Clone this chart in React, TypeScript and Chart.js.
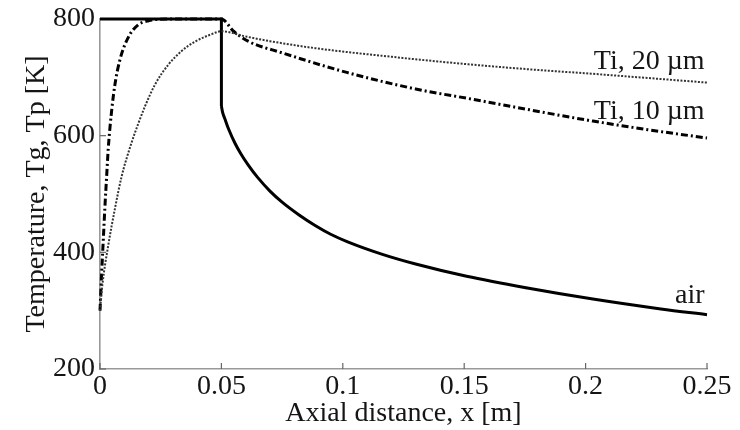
import React, { useEffect, useRef } from "react";
import { Chart, registerables } from "chart.js";
Chart.register(...registerables);

const xTicks = [0, 0.05, 0.1, 0.15, 0.2, 0.25];
const xTickLabels = ["0", "0.05", "0.1", "0.15", "0.2", "0.25"];
const yTicks = [200, 400, 600, 800];
const yTickLabels = ["200", "400", "600", "800"];

// air: inlet plateau and drop
const airInletX = [0, 0.05, 0.05];
const airInletY = [800, 800, 651];
// air: decay after the drop
const airX = [0.05, 0.0505, 0.0515, 0.053, 0.0556, 0.058, 0.061, 0.065, 0.07, 0.075, 0.082, 0.0886, 0.095, 0.102, 0.116, 0.13, 0.151, 0.176, 0.203, 0.231, 0.25];
const airY = [651, 640, 628, 611, 587, 569, 550, 528, 505, 486, 464, 446, 431, 418, 397, 380, 359, 339, 320, 303, 293];

const ti10X = [0, 0.0007, 0.0014, 0.002, 0.0028, 0.0034, 0.0048, 0.0062, 0.0082, 0.0117, 0.0157, 0.02, 0.029, 0.05, 0.055, 0.061, 0.075, 0.102, 0.13, 0.154, 0.176, 0.203, 0.231, 0.25];
const ti10Y = [300, 366, 425, 476, 535, 578, 643, 689, 730, 769, 790, 797, 800, 800, 779, 762, 742, 708, 680, 662, 645, 625, 607, 596];

const ti20X = [0, 0.001, 0.0034, 0.0062, 0.0089, 0.013, 0.0158, 0.0185, 0.0227, 0.028, 0.0336, 0.039, 0.046, 0.05, 0.06, 0.07, 0.0886, 0.116, 0.15, 0.176, 0.203, 0.25];
const ti20Y = [300, 345, 412, 476, 530, 588, 621, 650, 688, 721, 745, 761, 774, 779, 770, 762, 750, 737, 723, 714, 706, 691];

const noteTexts = ["Ti, 20 \u00b5m", "Ti, 10 \u00b5m", "air"];
const noteX = [0.249, 0.249, 0.249];
const noteY = [727, 642, 325];

const FONT = '"Liberation Serif", "Times New Roman", serif';
const TEXT = "#151515";

const pts = (xs: number[], ys: number[]) => xs.map((x, i) => ({ x, y: ys[i] }));

const innerTicks = {
  id: "innerTicks",
  beforeDatasetsDraw(chart: any) {
    const { ctx, chartArea, scales } = chart;
    const x = scales.x, y = scales.y;
    ctx.save();
    ctx.strokeStyle = "#666";
    ctx.lineWidth = 1.2;
    x.ticks.forEach((t: any) => {
      const px = x.getPixelForValue(t.value);
      ctx.beginPath();
      ctx.moveTo(px, chartArea.bottom);
      ctx.lineTo(px, chartArea.bottom - 6);
      ctx.stroke();
    });
    y.ticks.forEach((t: any) => {
      const py = y.getPixelForValue(t.value);
      ctx.beginPath();
      ctx.moveTo(chartArea.left, py);
      ctx.lineTo(chartArea.left + 6, py);
      ctx.stroke();
    });
    ctx.restore();
  },
};

const notes = {
  id: "notes",
  afterDatasetsDraw(chart: any) {
    const { ctx, scales } = chart;
    ctx.save();
    ctx.fillStyle = TEXT;
    ctx.font = `28px ${FONT}`;
    ctx.textAlign = "right";
    ctx.textBaseline = "middle";
    noteTexts.forEach((t, i) => {
      ctx.fillText(t, scales.x.getPixelForValue(noteX[i]), scales.y.getPixelForValue(noteY[i]));
    });
    ctx.restore();
  },
};

export default function App() {
  const ref = useRef<HTMLCanvasElement | null>(null);
  useEffect(() => {
    document.body.style.margin = "0";
    if (!ref.current) return;
    const common = { pointRadius: 0, fill: false, clip: false as any, borderCapStyle: "butt" as const };
    const chart = new Chart(ref.current, {
      type: "line",
      data: {
        datasets: [
          { ...common, data: pts(ti20X, ti20Y), borderColor: "#333", borderWidth: 2, borderDash: [2, 1.5], cubicInterpolationMode: "monotone" },
          { ...common, data: pts(ti10X, ti10Y), borderColor: "#000", borderWidth: 3, borderDash: [7, 3, 2, 3], cubicInterpolationMode: "monotone" },
          { ...common, data: pts(airInletX, airInletY), borderColor: "#000", borderWidth: 3, tension: 0 },
          { ...common, data: pts(airX, airY), borderColor: "#000", borderWidth: 3, cubicInterpolationMode: "monotone" },
        ],
      },
      options: {
        responsive: false,
        animation: false,
        parsing: false as any,
        layout: { padding: { top: 18, right: 33, left: 0, bottom: 0 } },
        plugins: { legend: { display: false }, tooltip: { enabled: false } },
        scales: {
          x: {
            type: "linear",
            min: 0,
            max: 0.25,
            afterBuildTicks: (s: any) => { s.ticks = xTicks.map((v) => ({ value: v })); },
            afterFit: (s: any) => { s.height = 61; },
            ticks: {
              callback: (_v: any, i: number) => xTickLabels[i],
              color: TEXT,
              font: { family: FONT, size: 28, lineHeight: 1 },
              padding: 4,
              maxRotation: 0,
              autoSkip: false,
            },
            grid: { display: true, drawOnChartArea: false, drawTicks: false },
            border: { color: "#999", width: 1.6 },
            title: {
              display: true,
              text: "Axial distance, x [m]",
              color: TEXT,
              font: { family: FONT, size: 28, lineHeight: 1 },
              padding: { top: 0, bottom: 2 },
            },
          },
          y: {
            type: "linear",
            min: 200,
            max: 800,
            afterBuildTicks: (s: any) => { s.ticks = yTicks.map((v) => ({ value: v })); },
            afterFit: (s: any) => { s.width = 100; },
            ticks: {
              callback: (_v: any, i: number) => yTickLabels[i],
              color: TEXT,
              font: { family: FONT, size: 28, lineHeight: 1 },
              padding: 5,
              autoSkip: false,
            },
            grid: { display: true, drawOnChartArea: false, drawTicks: false },
            border: { color: "#999", width: 1.6 },
            title: {
              display: true,
              text: "Temperature, Tg, Tp [K]",
              color: TEXT,
              font: { family: FONT, size: 28, lineHeight: 1 },
              padding: { top: 23, bottom: 0 },
            },
          },
        },
      },
      plugins: [innerTicks, notes],
    });
    return () => chart.destroy();
  }, []);
  return <canvas ref={ref} width={740} height={430} style={{ display: "block" }} />;
}
